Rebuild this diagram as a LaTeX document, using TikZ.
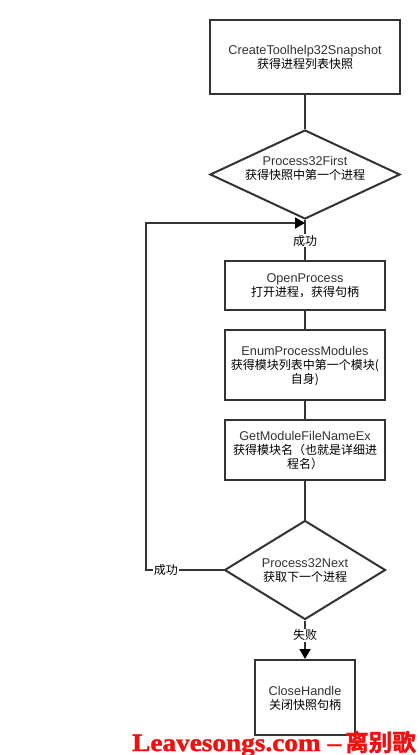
\documentclass[tikz,border=0pt]{standalone}
\usepackage{fontspec}
\setmainfont{Liberation Sans}
\newfontfamily\cjk{Noto Sans CJK SC}
\newfontfamily\wmlatin[UprightFont={* Bold},FakeStretch=1.09,FakeBold=1.5]{Liberation Serif}
\newfontfamily\wmcjk[UprightFont={* Bold},FakeBold=1.5]{Noto Sans CJK SC}
\usetikzlibrary{shapes.geometric,arrows.meta}
\definecolor{ink}{HTML}{333333}
\definecolor{wm}{HTML}{F01010}
\newcommand{\zh}[1]{{\fontsize{12}{14}\selectfont\cjk\color{black}#1}}
\tikzset{
  x=1pt,y=-1pt,
  flowbox/.style={draw=ink,line width=2pt,fill=white,align=center,inner sep=0pt,text=ink,text depth=0pt,font=\fontsize{12.7}{14}\selectfont},
  flowdiamond/.style={flowbox,diamond},
  flowtext/.style={align=center,inner sep=0pt,text=ink,text depth=0pt,font=\fontsize{12.7}{14}\selectfont},
  link/.style={draw=ink,line width=2pt},
  tag/.style={fill=white,inner sep=1pt,text=black,font=\fontsize{12}{14}\selectfont\cjk}
}
\begin{document}
\begin{tikzpicture}
\useasboundingbox (0,0) rectangle (420,755);
\fill[white] (0,0) rectangle (420,755);
\node[flowbox,minimum width=190pt,minimum height=74pt] (snap) at (305,57) {CreateToolhelp32Snapshot\\\zh{获得进程列表快照}};
\node[flowdiamond,minimum width=190pt,minimum height=89pt,shape aspect=2.14] (first) at (305,174.5) {};
\node[flowtext] (firsttext) at (305,168) {Process32First\\\zh{获得快照中第一个进程}};
\node[flowbox,minimum width=160pt,minimum height=49pt] (open) at (305,285) {OpenProcess\\\zh{打开进程，获得句柄}};
\node[flowbox,minimum width=160pt,minimum height=70pt] (enum) at (305,365) {EnumProcessModules\\\zh{获得模块列表中第一个模块(}\\\zh{自身)}};
\node[flowbox,minimum width=160pt,minimum height=60pt] (name) at (305,450) {GetModuleFileNameEx\\\zh{获得模块名（也就是详细进}\\\zh{程名）}};
\node[flowdiamond,minimum width=161pt,minimum height=99pt,shape aspect=1.63] (next) at (305,570) {Process32Next\\\zh{获取下一个进程}};
\node[flowbox,minimum width=100pt,minimum height=75pt] (close) at (305,697.5) {CloseHandle\\\zh{关闭快照句柄}};
\coordinate (join) at (305,223);
\coordinate (corner1) at (146,570);
\coordinate (corner2) at (146,223);
\draw[link] (snap) -- (first);
\draw[link] (first) -- node[tag,pos=0.52] {成功} (open);
\draw[link] (open) -- (enum);
\draw[link] (enum) -- (name);
\draw[link] (name) -- (next);
\draw[link,-{Triangle[length=10pt,width=11pt,color=black]}] (next) -- node[tag,pos=0.38] {失败} (close);
\draw[link,line join=miter,-{Triangle[length=10pt,width=11pt,color=black]}] (next.west) -- node[tag,pos=0.745] {成功} (corner1) -- (corner2) -- (join);
\node[anchor=base west,inner sep=0pt,text=wm,font=\fontsize{25}{25}\selectfont] (wmark) at (132,751) {\wmlatin Leavesongs.com\hspace{7pt}–\hspace{4pt}{\fontsize{23.5}{25}\selectfont\wmcjk 离别歌}};
\end{tikzpicture}
\end{document}
